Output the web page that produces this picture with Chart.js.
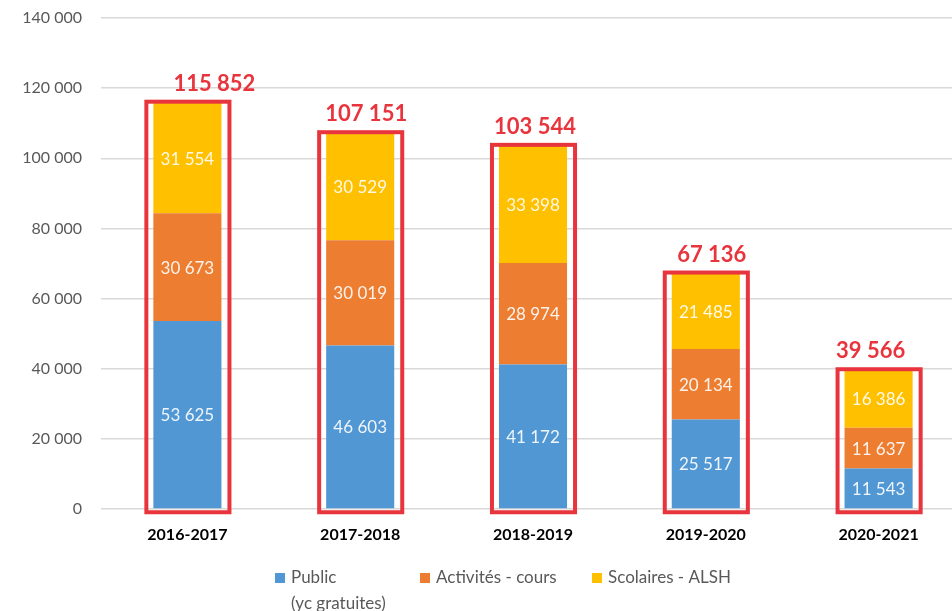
<!DOCTYPE html>
<html>
<head>
<meta charset="utf-8">
<script src="https://cdn.jsdelivr.net/npm/chart.js@4"></script>
<style>
  html, body { margin: 0; padding: 0; overflow: hidden; background: #fff; }
  #wrap { position: relative; width: 970px; height: 611px; }
</style>
</head>
<body>
<div id="wrap"><canvas id="chart"></canvas></div>
<script>
// Données du graphique
const saisons = ['2016-2017', '2017-2018', '2018-2019', '2019-2020', '2020-2021'];
const publicVals = [53625, 46603, 41172, 25517, 11543];
const activitesVals = [30673, 30019, 28974, 20134, 11637];
const scolairesVals = [31554, 30529, 33398, 21485, 16386];
const totaux = [115852, 107151, 103544, 67136, 39566];
const legendLabels = [['Public', '(yc gratuites)'], ['Activités - cours'], ['Scolaires - ALSH']];
const yTicks = [0, 20000, 40000, 60000, 80000, 100000, 120000, 140000];

const couleurs = ['#5097D4', '#ED7D31', '#FFC000'];
const rouge = '#E8343C';
const police = 'Lato, "Open Sans", sans-serif';

function fmt(v) {
    return v.toString().replace(/\B(?=(\d{3})+(?!\d))/g, ' ');
}

// Étiquettes dans les barres, cadres rouges, totaux et légende
const decorPlugin = {
    id: 'decor',
    afterDatasetsDraw(chart) {
        const ctx = chart.ctx;
        ctx.save();
        ctx.textAlign = 'center';
        ctx.textBaseline = 'middle';

        // valeurs dans les segments
        ctx.font = '17px ' + police;
        ctx.fillStyle = 'rgba(255,255,255,0.9)';
        chart.data.datasets.forEach((ds, i) => {
            chart.getDatasetMeta(i).data.forEach((bar, j) => {
                const p = bar.getProps(['x', 'y', 'base'], true);
                ctx.fillText(fmt(ds.data[j]), p.x, (p.y + p.base) / 2 + 1);
            });
        });

        // cadres rouges + totaux (les totaux sont placés à la main dans l'original)
        const decalages = [27, 6, 2, 6, -8];
        const last = chart.getDatasetMeta(chart.data.datasets.length - 1);
        const first = chart.getDatasetMeta(0);
        last.data.forEach((bar, j) => {
            const p = bar.getProps(['x', 'y', 'width'], true);
            const base = first.data[j].getProps(['base'], true).base;
            const left = p.x - p.width / 2 - 7;
            const right = p.x + p.width / 2 + 8;
            const top = p.y - 1;
            const bottom = base + 4;
            ctx.strokeStyle = rouge;
            ctx.lineWidth = 4;
            ctx.strokeRect(left, top, right - left, bottom - top);

            ctx.font = 'bold 22px ' + police;
            ctx.fillStyle = rouge;
            ctx.fillText(fmt(totaux[j]), p.x + decalages[j], top - 18);
        });

        // légende
        const posX = [275, 420, 592];
        ctx.textAlign = 'left';
        ctx.font = '17px ' + police;
        legendLabels.forEach((lignes, i) => {
            ctx.fillStyle = couleurs[i];
            ctx.fillRect(posX[i], 573, 10, 10);
            ctx.fillStyle = '#595959';
            lignes.forEach((t, k) => {
                ctx.fillText(t, posX[i] + 16, 578 + k * 26);
            });
        });
        ctx.restore();
    }
};

const datasets = [publicVals, activitesVals, scolairesVals].map((vals, i) => ({
    label: legendLabels[i].join(' '),
    data: vals,
    backgroundColor: couleurs[i],
    borderWidth: 0,
    categoryPercentage: 1,
    barPercentage: 0.394
}));

new Chart(document.getElementById('chart'), {
    type: 'bar',
    data: { labels: saisons, datasets: datasets },
    options: {
        responsive: true,
        maintainAspectRatio: false,
        animation: false,
        layout: { padding: { top: 18, right: 5, bottom: 0, left: 0 } },
        plugins: {
            legend: { display: false },
            tooltip: { enabled: false }
        },
        scales: {
            x: {
                stacked: true,
                grid: { display: false, drawTicks: false },
                border: { display: false },
                ticks: {
                    color: '#000',
                    font: { family: police, size: 16, weight: 'bold' },
                    padding: 16
                },
                afterFit(scale) { scale.height = 102; }
            },
            y: {
                stacked: true,
                min: 0,
                max: 140000,
                afterBuildTicks(scale) { scale.ticks = yTicks.map(v => ({ value: v })); },
                grid: { color: '#D9D9D9', lineWidth: 1.5, drawTicks: false },
                border: { display: false },
                ticks: {
                    color: '#595959',
                    font: { family: police, size: 16 },
                    padding: 19,
                    callback: v => fmt(v)
                },
                afterFit(scale) {
                    scale.width = 101;
                    scale.paddingTop = 10;
                    scale.paddingBottom = 10;
                }
            }
        }
    },
    plugins: [decorPlugin]
});
</script>
</body>
</html>
